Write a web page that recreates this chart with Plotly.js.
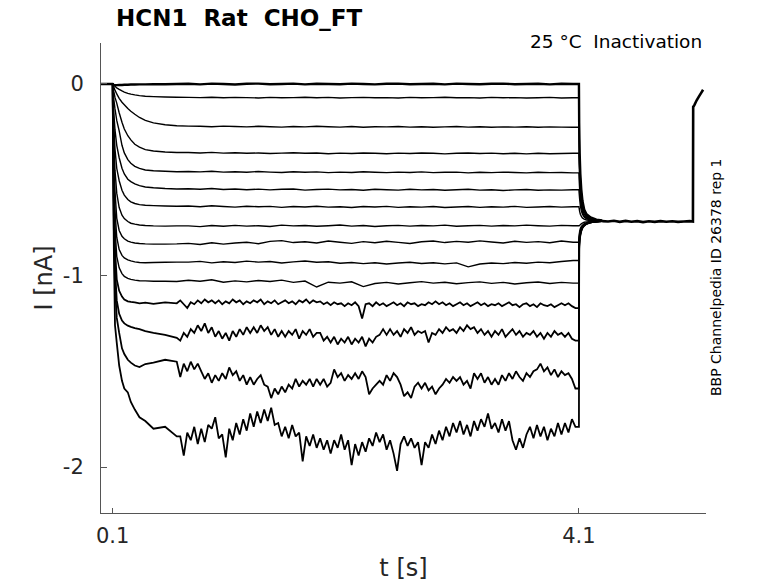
<!DOCTYPE html>
<html>
<head>
<meta charset="utf-8">
<script src="https://cdn.plot.ly/plotly-3.0.1.min.js"></script>
<style>
  html, body { margin: 0; padding: 0; background: #fff; }
  #chart { width: 778px; height: 583px; }
</style>
</head>
<body>
<div id="chart"></div>
<script>
// time bases [s]
const tAct = [0, 0.1, 0.105, 0.11, 0.12, 0.135, 0.156, 0.18, 0.2, 0.23, 0.256, 0.29, 0.33, 0.38, 0.45, 0.55, 0.65];
const tMid = [0.75, 0.85, 0.95, 1.05, 1.15, 1.25, 1.35, 1.45, 1.55, 1.65,
  1.75, 1.85, 1.95, 2.05, 2.15, 2.25, 2.35, 2.45, 2.55, 2.65,
  2.75, 2.85, 2.95, 3.05, 3.15, 3.25, 3.35, 3.45, 3.55, 3.65,
  3.75, 3.85, 3.95, 4.05];
const tFine = [0.68, 0.71, 0.74, 0.77, 0.80, 0.83, 0.86, 0.89, 0.92, 0.95,
  0.98, 1.01, 1.04, 1.07, 1.10, 1.13, 1.16, 1.19, 1.22, 1.25,
  1.28, 1.31, 1.34, 1.37, 1.40, 1.43, 1.46, 1.49, 1.52, 1.55,
  1.58, 1.61, 1.64, 1.67, 1.70, 1.73, 1.76, 1.79, 1.82, 1.85,
  1.88, 1.91, 1.94, 1.97, 2.00, 2.03, 2.06, 2.09, 2.12, 2.15,
  2.18, 2.21, 2.24, 2.27, 2.30, 2.33, 2.36, 2.39, 2.42, 2.45,
  2.48, 2.51, 2.54, 2.57, 2.60, 2.63, 2.66, 2.69, 2.72, 2.75,
  2.78, 2.81, 2.84, 2.87, 2.90, 2.93, 2.96, 2.99, 3.02, 3.05,
  3.08, 3.11, 3.14, 3.17, 3.20, 3.23, 3.26, 3.29, 3.32, 3.35,
  3.38, 3.41, 3.44, 3.47, 3.50, 3.53, 3.56, 3.59, 3.62, 3.65,
  3.68, 3.71, 3.74, 3.77, 3.80, 3.83, 3.86, 3.89, 3.92, 3.95,
  3.98, 4.01, 4.04, 4.07];
const tTest = [4.1, 4.102, 4.106, 4.112, 4.12, 4.13, 4.145, 4.165, 4.2, 4.25, 4.3];
const tTail = [4.3, 4.35, 4.4, 4.45, 4.5, 4.55, 4.6, 4.65, 4.7, 4.75, 4.8, 4.85, 4.9, 4.95, 5.0, 5.05, 5.078, 5.08, 5.09, 5.11, 5.13, 5.15, 5.165];

// currents [nA], one row per sweep, top sweep first
const actCurrents = [
  [0, 0, -0.003, -0.005, -0.006, -0.006, -0.005, -0.005, -0.004, -0.004, -0.003, -0.003, -0.002, -0.002, -0.001, -0.001, 0],
  [0, 0, -0.003, -0.006, -0.012, -0.02, -0.028, -0.036, -0.042, -0.049, -0.053, -0.057, -0.061, -0.064, -0.066, -0.068, -0.069],
  [0, 0, -0.008, -0.016, -0.032, -0.052, -0.075, -0.095, -0.108, -0.128, -0.142, -0.158, -0.175, -0.19, -0.203, -0.213, -0.218],
  [0, 0, -0.02, -0.04, -0.07, -0.1, -0.15, -0.2, -0.235, -0.27, -0.292, -0.315, -0.33, -0.343, -0.35, -0.355, -0.358],
  [0, 0, -0.04, -0.08, -0.13, -0.19, -0.245, -0.32, -0.36, -0.395, -0.414, -0.43, -0.441, -0.449, -0.453, -0.456, -0.458],
  [0, 0, -0.08, -0.15, -0.24, -0.32, -0.385, -0.44, -0.47, -0.497, -0.51, -0.522, -0.531, -0.538, -0.542, -0.546, -0.548],
  [0, 0, -0.12, -0.22, -0.34, -0.44, -0.505, -0.555, -0.58, -0.603, -0.615, -0.624, -0.63, -0.633, -0.635, -0.637, -0.638],
  [0, 0, -0.16, -0.3, -0.45, -0.57, -0.645, -0.685, -0.703, -0.718, -0.727, -0.732, -0.736, -0.739, -0.741, -0.742, -0.741],
  [0, 0, -0.2, -0.38, -0.56, -0.7, -0.765, -0.795, -0.808, -0.82, -0.826, -0.83, -0.833, -0.835, -0.836, -0.836, -0.835],
  [0, 0, -0.24, -0.45, -0.66, -0.8, -0.865, -0.895, -0.908, -0.918, -0.924, -0.929, -0.932, -0.933, -0.932, -0.931, -0.93],
  [0, 0, -0.28, -0.52, -0.75, -0.9, -0.96, -0.99, -1.005, -1.015, -1.02, -1.024, -1.027, -1.028, -1.03, -1.03, -1.031],
  [0, 0, -0.32, -0.6, -0.86, -1.02, -1.08, -1.11, -1.125, -1.135, -1.138, -1.14, -1.145, -1.142, -1.148, -1.14, -1.145],
  [0, 0, -0.36, -0.68, -0.96, -1.13, -1.2, -1.235, -1.25, -1.262, -1.268, -1.275, -1.28, -1.29, -1.3, -1.31, -1.325],
  [0, 0, -0.4, -0.75, -1.05, -1.22, -1.3, -1.38, -1.41, -1.44, -1.455, -1.47, -1.478, -1.462, -1.455, -1.44, -1.45],
  [0, 0, -0.45, -0.85, -1.26, -1.35, -1.47, -1.55, -1.59, -1.61, -1.66, -1.7, -1.74, -1.76, -1.8, -1.79, -1.84]
];

// sweeps 1-11 on tMid
const midCurrents = [
  [0.001, -0.002, 0.002, 0, -0.003, 0.001, 0.002, -0.001, 0, 0.002,
   -0.002, 0.001, 0, -0.001, 0.002, 0, -0.002, 0.001, 0.002, -0.001,
   0, 0.001, -0.002, 0.002, 0, -0.001, 0.001, 0.002, -0.001, 0,
   0.001, -0.002, 0.001, 0],
  [-0.07, -0.071, -0.069, -0.072, -0.07, -0.071, -0.073, -0.07, -0.072, -0.071,
   -0.069, -0.072, -0.07, -0.073, -0.071, -0.07, -0.072, -0.071, -0.073, -0.07,
   -0.072, -0.071, -0.069, -0.072, -0.071, -0.073, -0.07, -0.072, -0.071, -0.073,
   -0.072, -0.07, -0.073, -0.072],
  [-0.22, -0.221, -0.223, -0.22, -0.222, -0.224, -0.221, -0.223, -0.225, -0.222,
   -0.224, -0.221, -0.223, -0.225, -0.222, -0.226, -0.223, -0.224, -0.222, -0.225,
   -0.223, -0.226, -0.224, -0.222, -0.225, -0.223, -0.226, -0.224, -0.225, -0.223,
   -0.226, -0.224, -0.225, -0.226],
  [-0.358, -0.36, -0.357, -0.361, -0.359, -0.362, -0.36, -0.363, -0.361, -0.359,
   -0.362, -0.36, -0.364, -0.361, -0.363, -0.36, -0.362, -0.364, -0.361, -0.363,
   -0.36, -0.362, -0.365, -0.362, -0.36, -0.363, -0.361, -0.364, -0.362, -0.365,
   -0.362, -0.364, -0.363, -0.362],
  [-0.457, -0.459, -0.456, -0.46, -0.458, -0.461, -0.457, -0.46, -0.462, -0.458,
   -0.461, -0.459, -0.463, -0.46, -0.462, -0.458, -0.461, -0.463, -0.46, -0.462,
   -0.459, -0.463, -0.461, -0.46, -0.464, -0.461, -0.463, -0.46, -0.462, -0.464,
   -0.461, -0.463, -0.462, -0.464],
  [-0.547, -0.55, -0.546, -0.551, -0.548, -0.552, -0.549, -0.553, -0.55, -0.548,
   -0.554, -0.551, -0.549, -0.553, -0.551, -0.555, -0.55, -0.552, -0.554, -0.55,
   -0.553, -0.551, -0.555, -0.552, -0.55, -0.554, -0.552, -0.556, -0.553, -0.551,
   -0.555, -0.553, -0.554, -0.552],
  [-0.637, -0.641, -0.636, -0.64, -0.643, -0.638, -0.641, -0.639, -0.644, -0.64,
   -0.642, -0.638, -0.643, -0.641, -0.645, -0.64, -0.642, -0.639, -0.644, -0.641,
   -0.643, -0.64, -0.645, -0.642, -0.64, -0.644, -0.641, -0.643, -0.639, -0.644,
   -0.642, -0.64, -0.643, -0.641],
  [-0.741, -0.745, -0.739, -0.743, -0.738, -0.742, -0.74, -0.744, -0.737, -0.741,
   -0.739, -0.743, -0.74, -0.736, -0.742, -0.739, -0.744, -0.74, -0.738, -0.742,
   -0.739, -0.741, -0.737, -0.743, -0.74, -0.738, -0.742, -0.739, -0.741, -0.737,
   -0.74, -0.742, -0.738, -0.74],
  [-0.832, -0.838, -0.829, -0.836, -0.83, -0.826, -0.834, -0.822, -0.818, -0.828,
   -0.824, -0.83, -0.82, -0.826, -0.832, -0.823, -0.829, -0.821, -0.827, -0.833,
   -0.824, -0.82, -0.828, -0.822, -0.826, -0.819, -0.825, -0.83, -0.821, -0.827,
   -0.823, -0.829, -0.82, -0.826],
  [-0.93, -0.926, -0.934, -0.928, -0.932, -0.925, -0.93, -0.927, -0.935, -0.929,
   -0.924, -0.931, -0.928, -0.936, -0.932, -0.938, -0.933, -0.94, -0.935, -0.931,
   -0.937, -0.933, -0.939, -0.934, -0.955, -0.94, -0.935, -0.938, -0.932, -0.936,
   -0.93, -0.933, -0.927, -0.922],
  [-1.025, -1.03, -1.022, -1.035, -1.028, -1.033, -1.026, -1.031, -1.024, -1.036,
   -1.029, -1.06, -1.035, -1.04, -1.033, -1.058, -1.042, -1.036, -1.044, -1.038,
   -1.032, -1.04, -1.035, -1.043, -1.037, -1.033, -1.041, -1.036, -1.044, -1.038,
   -1.034, -1.042, -1.036, -1.04]
];

// sweeps 12-15 on tFine (noisier)
const fineCurrents = [
  [-1.13, -1.15, -1.17, -1.14, -1.15, -1.13, -1.145, -1.125, -1.14, -1.13,
   -1.145, -1.13, -1.15, -1.135, -1.145, -1.125, -1.14, -1.13, -1.15, -1.135,
   -1.145, -1.13, -1.14, -1.125, -1.15, -1.135, -1.145, -1.13, -1.15, -1.14,
   -1.13, -1.145, -1.135, -1.15, -1.13, -1.14, -1.125, -1.145, -1.13, -1.14,
   -1.135, -1.15, -1.14, -1.155, -1.14, -1.15, -1.145, -1.16, -1.145, -1.155,
   -1.14, -1.16, -1.225, -1.15, -1.145, -1.16, -1.14, -1.155, -1.145, -1.16,
   -1.15, -1.14, -1.155, -1.145, -1.16, -1.14, -1.15, -1.145, -1.16, -1.15,
   -1.155, -1.14, -1.15, -1.135, -1.15, -1.14, -1.155, -1.145, -1.16, -1.15,
   -1.14, -1.155, -1.145, -1.16, -1.15, -1.14, -1.155, -1.145, -1.16, -1.15,
   -1.155, -1.145, -1.16, -1.15, -1.14, -1.155, -1.15, -1.165, -1.15, -1.145,
   -1.16, -1.15, -1.165, -1.145, -1.155, -1.16, -1.15, -1.165, -1.155, -1.145,
   -1.155, -1.145, -1.16, -1.17],
  [-1.34, -1.30, -1.32, -1.28, -1.30, -1.26, -1.29, -1.25, -1.30, -1.27,
   -1.32, -1.29, -1.33, -1.30, -1.34, -1.29, -1.32, -1.28, -1.31, -1.27,
   -1.30, -1.27, -1.30, -1.26, -1.29, -1.27, -1.31, -1.28, -1.32, -1.29,
   -1.32, -1.29, -1.31, -1.28, -1.33, -1.29, -1.31, -1.28, -1.32, -1.30,
   -1.30, -1.34, -1.32, -1.35, -1.32, -1.36, -1.33, -1.35, -1.32, -1.36,
   -1.33, -1.35, -1.32, -1.37, -1.33, -1.35, -1.32, -1.31, -1.28, -1.31,
   -1.28, -1.31, -1.29, -1.32, -1.28, -1.30, -1.27, -1.31, -1.29, -1.30,
   -1.29, -1.35, -1.30, -1.31, -1.28, -1.30, -1.27, -1.29, -1.28, -1.30,
   -1.27, -1.29, -1.26, -1.28, -1.27, -1.30, -1.28, -1.31, -1.29, -1.32,
   -1.29, -1.31, -1.28, -1.32, -1.30, -1.28, -1.31, -1.29, -1.32, -1.30,
   -1.31, -1.29, -1.32, -1.30, -1.33, -1.30, -1.32, -1.29, -1.31, -1.30,
   -1.32, -1.30, -1.33, -1.34],
  [-1.53, -1.46, -1.50, -1.45, -1.49, -1.46, -1.50, -1.54, -1.51, -1.56,
   -1.52, -1.55, -1.51, -1.54, -1.48, -1.52, -1.50, -1.55, -1.52, -1.57,
   -1.53, -1.57, -1.54, -1.52, -1.57, -1.58, -1.64, -1.59, -1.62, -1.58,
   -1.61, -1.57, -1.59, -1.54, -1.58, -1.55, -1.57, -1.54, -1.58, -1.54,
   -1.57, -1.54, -1.58, -1.56, -1.49, -1.53, -1.51, -1.55, -1.52, -1.54,
   -1.51, -1.54, -1.50, -1.53, -1.62, -1.59, -1.57, -1.55, -1.57, -1.52,
   -1.55, -1.51, -1.53, -1.57, -1.63, -1.61, -1.64, -1.58, -1.56, -1.59,
   -1.56, -1.60, -1.58, -1.62, -1.59, -1.57, -1.54, -1.56, -1.53, -1.55,
   -1.53, -1.57, -1.55, -1.59, -1.51, -1.54, -1.51, -1.56, -1.53, -1.57,
   -1.54, -1.57, -1.52, -1.55, -1.51, -1.54, -1.50, -1.53, -1.55, -1.51,
   -1.53, -1.50, -1.49, -1.46, -1.50, -1.48, -1.52, -1.49, -1.53, -1.50,
   -1.52, -1.51, -1.54, -1.59],
  [-1.84, -1.94, -1.82, -1.86, -1.79, -1.88, -1.80, -1.87, -1.78, -1.80,
   -1.74, -1.85, -1.83, -1.95, -1.80, -1.86, -1.77, -1.83, -1.75, -1.81,
   -1.72, -1.79, -1.71, -1.77, -1.70, -1.76, -1.69, -1.78, -1.77, -1.84,
   -1.79, -1.85, -1.78, -1.84, -1.82, -1.97, -1.84, -1.89, -1.83, -1.90,
   -1.85, -1.91, -1.86, -1.93, -1.86, -1.90, -1.83, -1.91, -1.86, -1.99,
   -1.88, -1.94, -1.87, -1.92, -1.85, -1.89, -1.82, -1.87, -1.83, -1.91,
   -1.86, -1.93, -2.02, -1.88, -1.84, -1.89, -1.85, -1.90, -1.87, -1.99,
   -1.87, -1.90, -1.83, -1.88, -1.81, -1.86, -1.79, -1.84, -1.77, -1.82,
   -1.76, -1.83, -1.78, -1.84, -1.76, -1.81, -1.75, -1.79, -1.72, -1.80,
   -1.77, -1.82, -1.75, -1.81, -1.76, -1.86, -1.91, -1.85, -1.90, -1.83,
   -1.79, -1.85, -1.78, -1.84, -1.79, -1.86, -1.80, -1.84, -1.77, -1.83,
   -1.77, -1.82, -1.75, -1.79]
];

// test pulse transients on tTest
const testCurrents = [
  [0, -0.2, -0.36, -0.47, -0.55, -0.61, -0.655, -0.68, -0.697, -0.708, -0.713],
  [-0.072, -0.24, -0.39, -0.49, -0.565, -0.62, -0.66, -0.685, -0.7, -0.71, -0.714],
  [-0.226, -0.33, -0.44, -0.53, -0.59, -0.64, -0.67, -0.69, -0.703, -0.711, -0.714],
  [-0.362, -0.42, -0.5, -0.57, -0.62, -0.655, -0.68, -0.695, -0.706, -0.712, -0.715],
  [-0.464, -0.5, -0.55, -0.6, -0.64, -0.67, -0.69, -0.7, -0.708, -0.713, -0.716],
  [-0.552, -0.57, -0.6, -0.635, -0.66, -0.68, -0.695, -0.704, -0.71, -0.714, -0.716],
  [-0.641, -0.65, -0.665, -0.68, -0.69, -0.7, -0.706, -0.71, -0.713, -0.715, -0.716],
  [-0.74, -0.74, -0.738, -0.735, -0.73, -0.726, -0.722, -0.72, -0.718, -0.717, -0.716],
  [-0.826, -0.79, -0.77, -0.755, -0.745, -0.738, -0.73, -0.725, -0.72, -0.717, -0.716],
  [-0.922, -0.8, -0.78, -0.765, -0.752, -0.742, -0.733, -0.727, -0.721, -0.718, -0.716],
  [-1.04, -0.82, -0.79, -0.77, -0.755, -0.744, -0.735, -0.728, -0.722, -0.718, -0.716],
  [-1.17, -0.83, -0.8, -0.775, -0.758, -0.746, -0.736, -0.728, -0.722, -0.718, -0.716],
  [-1.34, -0.84, -0.805, -0.78, -0.762, -0.748, -0.737, -0.729, -0.722, -0.718, -0.716],
  [-1.59, -0.85, -0.81, -0.785, -0.765, -0.75, -0.738, -0.73, -0.723, -0.718, -0.716],
  [-1.79, -0.86, -0.815, -0.79, -0.768, -0.752, -0.74, -0.73, -0.723, -0.719, -0.716]
];

// common steady test level and tail (all sweeps overlap here)
const tailCurrent = [-0.716, -0.718, -0.714, -0.72, -0.715, -0.719, -0.716, -0.721, -0.717, -0.72, -0.716, -0.719, -0.717, -0.72, -0.718, -0.716, -0.718, -0.12, -0.11, -0.085, -0.065, -0.045, -0.03];

const xTickVals = [0.1, 4.1];
const xTickText = ["0.1", "4.1"];
const yTickVals = [-2, -1, 0];
const yTickText = ["-2", "-1", "0"];

const FONT = "DejaVu Sans, Liberation Sans, sans-serif";
const AXIS = "#555555";
const TEXT = "#262626";

const traces = actCurrents.map((act, i) => {
  const steadyT = i < midCurrents.length ? tMid : tFine;
  const steadyI = i < midCurrents.length ? midCurrents[i] : fineCurrents[i - midCurrents.length];
  return {
    x: tAct.concat(steadyT, tTest),
    y: act.concat(steadyI, testCurrents[i]),
    type: "scatter",
    mode: "lines",
    line: { color: "#000", width: i === 0 ? 2.4 : (i > 10 ? 1.8 : 1.4), simplify: false },
    hoverinfo: "skip",
  };
});
traces.push({
  x: tTail,
  y: tailCurrent,
  type: "scatter",
  mode: "lines",
  line: { color: "#000", width: 2.6, simplify: false },
  hoverinfo: "skip",
});

const layout = {
  width: 778,
  height: 583,
  margin: { l: 101, r: 72, t: 43, b: 70 },
  paper_bgcolor: "#fff",
  plot_bgcolor: "#fff",
  showlegend: false,
  font: { family: FONT, color: TEXT },
  xaxis: {
    range: [0, 5.19],
    tickvals: xTickVals,
    ticktext: xTickText,
    ticks: "inside",
    ticklen: 5,
    tickcolor: AXIS,
    showline: true,
    linecolor: AXIS,
    linewidth: 1,
    showgrid: false,
    zeroline: false,
    tickfont: { size: 21, family: FONT, color: TEXT },
    ticklabelstandoff: 4,
    title: { text: "t [s]", font: { size: 24, family: FONT, color: TEXT }, standoff: 11 },
  },
  yaxis: {
    range: [-2.24, 0.214],
    tickvals: yTickVals,
    ticktext: yTickText,
    ticks: "inside",
    ticklen: 6,
    tickcolor: AXIS,
    showline: true,
    linecolor: AXIS,
    linewidth: 1,
    showgrid: false,
    zeroline: false,
    tickfont: { size: 21, family: FONT, color: TEXT },
    ticklabelstandoff: 12,
    title: { text: "I [nA]", font: { size: 24, family: FONT, color: TEXT }, standoff: 3 },
  },
  annotations: [
    {
      text: "<b>HCN1\u00a0\u00a0Rat\u00a0\u00a0CHO_FT</b>",
      xref: "paper", yref: "paper",
      x: 0.022, y: 1.053, xanchor: "left", yanchor: "middle",
      showarrow: false,
      font: { size: 23, family: FONT, color: "#000" },
    },
    {
      text: "25 °C\u00a0\u00a0Inactivation",
      xref: "paper", yref: "paper",
      x: 1, y: 1.004, xanchor: "right", yanchor: "middle", xshift: -2,
      showarrow: false,
      font: { size: 18.5, family: FONT, color: "#000" },
    },
    {
      text: "BBP Channelpedia ID 26378 rep 1",
      xref: "paper", yref: "paper",
      x: 1.0165, y: 0.502, xanchor: "center", yanchor: "middle",
      textangle: -90,
      showarrow: false,
      font: { size: 14, family: FONT, color: "#000" },
    },
  ],
};

Plotly.newPlot("chart", traces, layout, { displayModeBar: false, staticPlot: true });
</script>
</body>
</html>
